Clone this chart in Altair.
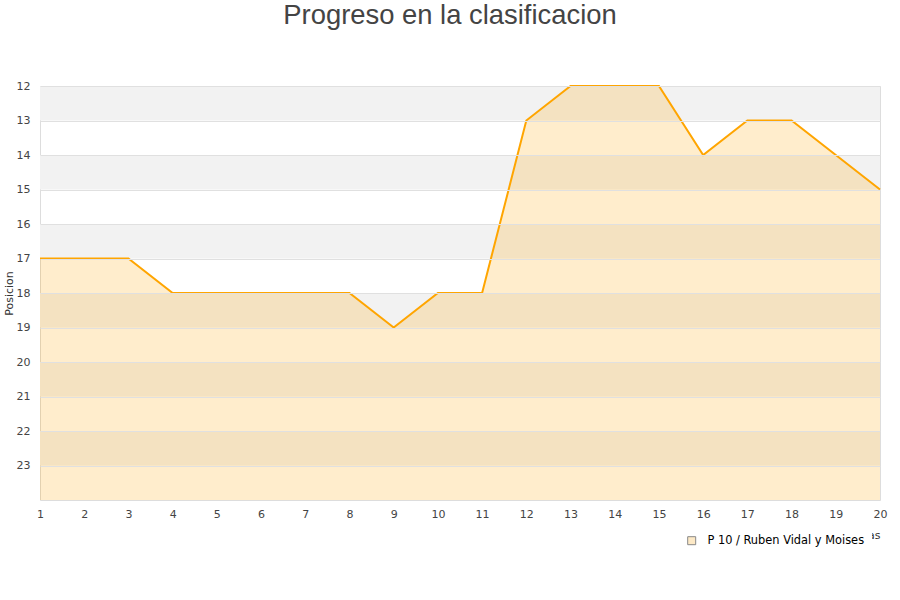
import altair as alt
import pandas as pd

# Team position after each round (lower number = better)
jornadas = list(range(1, 21))
posiciones = [17, 17, 17, 18, 18, 18, 18, 18, 19, 18, 18, 13, 12, 12, 12, 14, 13, 13, 14, 15]
equipo = "P 10 / Ruben Vidal y Moises"

# Alternating grey bands behind the chart
band_tops = [12, 14, 16, 18, 20, 22]
y_ticks = list(range(12, 24))

df = pd.DataFrame({"jornada": jornadas, "posicion": posiciones, "equipo": equipo, "fondo": 24})
bands = pd.DataFrame({"y": band_tops, "y2": [b + 1 for b in band_tops], "x": 1, "x2": 20})

x_scale = alt.Scale(domain=[1, 20], nice=False)
y_scale = alt.Scale(domain=[12, 24], reverse=True, nice=False, zero=False)

x_axis = alt.Axis(values=jornadas, title="Jornadas", grid=False, ticks=False,
                  domain=False, labelPadding=8, labelFlush=False, labelOverlap=False,
                  titleAnchor="end", titleFontSize=11, titleFontWeight="normal",
                  titleColor="#333", titlePadding=10)
y_axis = alt.Axis(values=y_ticks, title="Posicion", grid=True, gridColor="#e0e0e0",
                  ticks=False, domain=False, labelPadding=10, labelOverlap=False,
                  labelFlush=False, zindex=1, titleFontSize=11,
                  titleFontWeight="normal", titleColor="#333", titlePadding=2)

band_layer = alt.Chart(bands).mark_rect(color="#f2f2f2").encode(
    x=alt.X("x:Q", scale=x_scale, axis=x_axis),
    x2="x2:Q",
    y=alt.Y("y:Q", scale=y_scale, axis=y_axis),
    y2="y2:Q",
)

area_layer = alt.Chart(df).mark_area(color="#ffa500", opacity=0.2).encode(
    x=alt.X("jornada:Q", scale=x_scale, axis=x_axis),
    y=alt.Y("posicion:Q", scale=y_scale, axis=y_axis),
    y2="fondo:Q",
)

line_layer = alt.Chart(df).mark_line(color="#ffa500", strokeWidth=2).encode(
    x=alt.X("jornada:Q", scale=x_scale, axis=x_axis),
    y=alt.Y("posicion:Q", scale=y_scale, axis=y_axis),
)

# Legend entry only: no rows are drawn, the legend comes from the fixed domain
legend_layer = alt.Chart(df).transform_filter("datum.jornada < 0").mark_point(
    shape="square", filled=True, stroke="#888888", strokeWidth=1, opacity=1
).encode(
    x=alt.X("jornada:Q", scale=x_scale, axis=x_axis),
    y=alt.Y("posicion:Q", scale=y_scale, axis=y_axis),
    fill=alt.Fill("equipo:N", scale=alt.Scale(domain=[equipo], range=["#fde9c6"]),
                  legend=alt.Legend(title=None, orient="none", legendX=639, legendY=442,
                                    symbolType="square", symbolSize=64,
                                    symbolStrokeColor="#888888", symbolStrokeWidth=1,
                                    labelOffset=10, labelFontSize=11.4, labelColor="#000",
                                    fillColor="white", padding=7)),
)

chart = alt.layer(band_layer, area_layer, line_layer, legend_layer).properties(
    width=840,
    height=414,
    autosize=alt.AutoSizeParams(type="none"),
    padding={"left": 40, "top": 86, "right": 20, "bottom": 100},
    title=alt.Title("Progreso en la clasificacion", fontSize=27.4, font="Liberation Sans",
                    fontWeight="normal", color="#444", anchor="middle", offset=51, dx=-10),
).configure_view(
    stroke="#dddddd"
).configure_axis(
    labelFont="DejaVu Sans", labelFontSize=11, labelColor="#444", titleFont="DejaVu Sans"
).configure_legend(
    labelFont="DejaVu Sans"
)

chart.save("out.html", embed_options={"renderer": "svg", "actions": False})
